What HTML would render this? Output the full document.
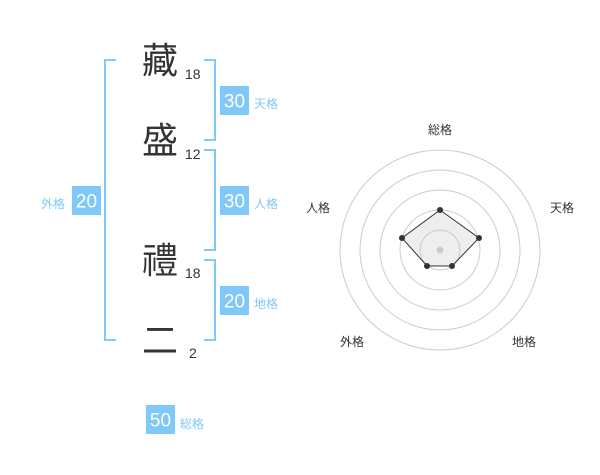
<!DOCTYPE html>
<html><head><meta charset="utf-8"><style>
body{margin:0;width:600px;height:470px;background:#fff;overflow:hidden}
</style></head><body>
<svg width="600" height="470" xmlns="http://www.w3.org/2000/svg" font-family="Liberation Sans, Noto Sans CJK JP, sans-serif">
<g fill="none" stroke="#80c8f8" stroke-width="2">
<polyline points="116,60 105,60 105,340 116,340"/>
<polyline points="204,60 215,60 215,140 204,140"/>
<polyline points="204,150 215,150 215,250 204,250"/>
<polyline points="204,260 215,260 215,340 204,340"/>
</g>
<g fill="#333" font-size="36" text-anchor="middle">
<text x="160" y="73">藏</text>
<text x="160" y="153">盛</text>
<text x="160" y="273">禮</text>
<text x="160" y="353">二</text>
</g>
<g fill="#333" font-size="14">
<text x="185" y="79">18</text>
<text x="185" y="159">12</text>
<text x="185" y="278">18</text>
<text x="189" y="358">2</text>
</g>
<g fill="#80c8f8">
<rect x="220" y="86" width="29" height="29"/>
<rect x="220" y="186" width="29" height="29"/>
<rect x="220" y="286" width="29" height="29"/>
<rect x="72" y="186" width="29" height="29"/>
<rect x="146" y="405" width="29" height="29"/>
</g>
<g fill="#fff" font-size="19" text-anchor="middle">
<text x="234.5" y="107.5">30</text>
<text x="234.5" y="207.5">30</text>
<text x="234.5" y="307.5">20</text>
<text x="86.5" y="207.5">20</text>
<text x="160.5" y="426.5">50</text>
</g>
<g fill="#80c8f8" font-size="12">
<text x="254" y="108">天格</text>
<text x="254" y="208">人格</text>
<text x="254" y="308">地格</text>
<text x="41" y="208">外格</text>
<text x="180" y="428">総格</text>
</g>
<g fill="none" stroke="#ccc" stroke-width="1">
<circle cx="440" cy="250" r="20"/>
<circle cx="440" cy="250" r="40"/>
<circle cx="440" cy="250" r="60"/>
<circle cx="440" cy="250" r="80"/>
<circle cx="440" cy="250" r="100"/>
</g>
<polygon points="440,210 479,238 452,266 427,266 402,238" fill="rgba(200,200,200,0.3)" stroke="#333" stroke-width="1"/>
<circle cx="440" cy="250" r="3.5" fill="#ccc"/>
<g fill="#333">
<circle cx="440" cy="210" r="3"/>
<circle cx="479" cy="238" r="3"/>
<circle cx="452" cy="266" r="3"/>
<circle cx="427" cy="266" r="3"/>
<circle cx="402" cy="238" r="3"/>
</g>
<g fill="#333" font-size="12" text-anchor="middle">
<text x="440" y="134">総格</text>
<text x="562" y="212">天格</text>
<text x="318" y="212">人格</text>
<text x="352" y="346">外格</text>
<text x="524" y="346">地格</text>
</g>
</svg>
</body></html>
